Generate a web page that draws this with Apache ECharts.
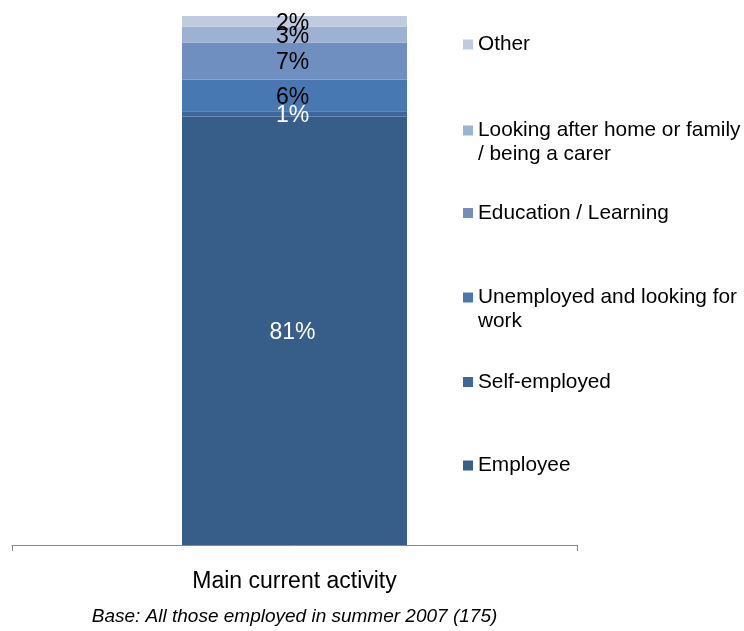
<!DOCTYPE html>
<html>
<head>
<meta charset="utf-8">
<style>
  html, body { margin: 0; padding: 0; background: #ffffff; }
  #chart { width: 744px; height: 631px; }
</style>
<script src="https://cdn.jsdelivr.net/npm/echarts@6/dist/echarts.min.js"></script>
</head>
<body>
<div id="chart"></div>
<script>
// Main current activity of those employed in summer 2007 (percent of base)
const categories = ['Main current activity'];
const employee = [81];
const selfEmployed = [1];
const unemployed = [6];
const education = [7];
const carer = [3];
const other = [2];

const baseNote = 'Base: All those employed in summer 2007 (175)';
const FONT = '"Liberation Sans", Arial, Helvetica, sans-serif';

// stacking order bottom → top
const seriesDefs = [
  { name: 'Employee', data: employee, color: '#375D89', labelColor: '#ffffff', legend: ['Employee'], legendTop: 465.5 },
  { name: 'Self-employed', data: selfEmployed, color: '#3C679B', labelColor: '#ffffff', legend: ['Self-employed'], legendTop: 382 },
  { name: 'Unemployed and looking for work', data: unemployed, color: '#4878B2', labelColor: '#000000', legend: ['Unemployed and looking for', 'work'], legendTop: 297.5 },
  { name: 'Education / Learning', data: education, color: '#6F8FC0', labelColor: '#000000', legend: ['Education / Learning'], legendTop: 213 },
  { name: 'Looking after home or family / being a carer', data: carer, color: '#9DB2D3', labelColor: '#000000', legend: ['Looking after home or family', '/ being a carer'], legendTop: 130.5 },
  { name: 'Other', data: other, color: '#BFCCE0', labelColor: '#000000', legend: ['Other'], legendTop: 44.5 }
];

const LINE = 24;

// One legend per series so each entry sits at its own height; wrapped
// entries get a blank leading line so the swatch lines up with line one.
const legends = seriesDefs.map(function (s) {
  const twoLine = s.legend.length > 1;
  const text = twoLine ? '\n' + s.legend.join('\n') : s.legend[0];
  return {
    orient: 'vertical',
    left: 463,
    top: s.legendTop - (twoLine ? LINE * 1.5 : LINE / 2),
    padding: 0,
    itemWidth: 10,
    itemHeight: 10,
    icon: 'rect',
    selectedMode: false,
    data: [s.name],
    formatter: function () { return text; },
    textStyle: {
      fontFamily: FONT,
      fontSize: 20.8,
      color: '#000000',
      lineHeight: LINE
    }
  };
});

const chart = echarts.init(document.getElementById('chart'));
chart.setOption({
  animation: false,
  backgroundColor: '#ffffff',
  textStyle: { fontFamily: FONT },
  grid: { left: 12, right: 167, top: 16, bottom: 82 },
  legend: legends,
  xAxis: {
    type: 'category',
    data: categories,
    axisLine: { show: true, lineStyle: { color: '#898989', width: 1 } },
    axisTick: { show: true, length: 6, lineStyle: { color: '#898989' } },
    axisLabel: { fontFamily: FONT, fontSize: 23, color: '#000000', margin: 25 },
    name: baseNote,
    nameLocation: 'middle',
    nameGap: 62,
    nameTextStyle: { fontFamily: FONT, fontSize: 19, fontStyle: 'italic', color: '#000000' }
  },
  yAxis: { type: 'value', min: 0, max: 100, show: false, splitLine: { show: false } },
  series: seriesDefs.map(function (s) {
    return {
      name: s.name,
      type: 'bar',
      stack: 'total',
      barWidth: 225,
      data: s.data,
      itemStyle: { color: s.color },
      label: {
        show: true,
        position: 'inside',
        formatter: '{c}%',
        fontFamily: FONT,
        fontSize: 23,
        color: s.labelColor,
        offset: [-2, 2]
      }
    };
  })
});
</script>
</body>
</html>
